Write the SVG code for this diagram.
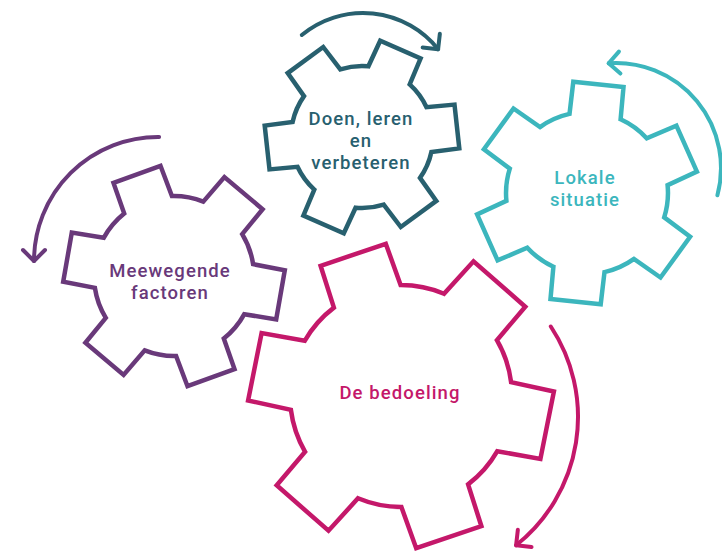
<svg xmlns="http://www.w3.org/2000/svg" width="722" height="552" viewBox="0 0 722 552">
<style>
.gear{fill:none;stroke-width:4.5;stroke-linejoin:miter;stroke-miterlimit:10}
.arc{fill:none;stroke-width:4;stroke-linecap:round}
.lbl{font-family:Roboto,"Liberation Sans",sans-serif;font-weight:500;font-size:18.5px;letter-spacing:1.1px;text-anchor:middle}
.c1{stroke:#28606f}.t1{fill:#28606f}
.c2{stroke:#3cb6bd}.t2{fill:#3cb6bd}
.c3{stroke:#69397a}.t3{fill:#69397a}
.c4{stroke:#c4186a}.t4{fill:#c4186a}
</style>
<defs>
<marker id="m1" markerUnits="userSpaceOnUse" orient="auto" overflow="visible" markerWidth="30" markerHeight="30" refX="0" refY="0"><path d="M-11,-11 L0,0 L-11,11" fill="none" stroke="#28606f" stroke-width="4" stroke-linecap="round" stroke-linejoin="round"/></marker>
<marker id="m2" markerUnits="userSpaceOnUse" orient="auto" overflow="visible" markerWidth="30" markerHeight="30" refX="0" refY="0"><path d="M-11,-11 L0,0 L-11,11" fill="none" stroke="#3cb6bd" stroke-width="4" stroke-linecap="round" stroke-linejoin="round"/></marker>
<marker id="m3" markerUnits="userSpaceOnUse" orient="auto" overflow="visible" markerWidth="30" markerHeight="30" refX="0" refY="0"><path d="M-11,-11 L0,0 L-11,11" fill="none" stroke="#69397a" stroke-width="4" stroke-linecap="round" stroke-linejoin="round"/></marker>
<marker id="m4" markerUnits="userSpaceOnUse" orient="auto" overflow="visible" markerWidth="30" markerHeight="30" refX="0" refY="0"><path d="M-11,-11 L0,0 L-11,11" fill="none" stroke="#c4186a" stroke-width="4" stroke-linecap="round" stroke-linejoin="round"/></marker>
</defs>
<rect width="722" height="552" fill="#ffffff"/>
<g id="gear-doen">
<path class="gear c1" d="M304,96.1 L287.7,73.1 L323.2,47 L340.3,69.4 A71,71 0 0 1 368.4,66.3 L380.2,40.7 L420.6,58.4 L409.7,84.4 A71,71 0 0 1 426.5,107.2 L454.5,104.6 L459.3,148.4 L431.4,152 A71,71 0 0 1 420,177.9 L436.3,200.9 L400.8,227 L383.7,204.6 A71,71 0 0 1 355.6,207.7 L343.8,233.3 L303.4,215.6 L314.3,189.6 A71,71 0 0 1 297.5,166.8 L269.5,169.4 L264.7,125.6 L292.6,122 A71,71 0 0 1 304,96.1 Z"/>
<text class="lbl t1" x="361" y="125">Doen, leren</text>
<text class="lbl t1" x="361" y="147">en</text>
<text class="lbl t1" x="361" y="169">verbeteren</text>
</g>
<g id="gear-lokale">
<path class="gear c2" d="M569.5,113.9 L573.3,81.8 L623.5,87.1 L620.6,119.3 A81,81 0 0 1 646.7,138.3 L676.4,125.6 L696.9,171.6 L667.6,185.2 A81,81 0 0 1 664.2,217.4 L690.1,236.8 L660.5,277.5 L634,258.9 A81,81 0 0 1 604.5,272.1 L600.7,304.2 L550.5,298.9 L553.4,266.7 A81,81 0 0 1 527.3,247.7 L497.6,260.4 L477.1,214.4 L506.4,200.8 A81,81 0 0 1 509.8,168.6 L483.9,149.2 L513.5,108.5 L540,127.1 A81,81 0 0 1 569.5,113.9 Z"/>
<text class="lbl t2" x="585" y="184">Lokale</text>
<text class="lbl t2" x="585" y="206">situatie</text>
</g>
<g id="gear-meewegende">
<path class="gear c3" d="M124.2,213.4 L113.5,182.9 L160.5,165.8 L171.9,196 A80,80 0 0 1 203.3,201.6 L224.4,177.1 L262.6,209.2 L242.2,234.2 A80,80 0 0 1 253.1,264.2 L284.8,270.2 L276.2,319.4 L244.3,314.2 A80,80 0 0 1 223.8,338.6 L234.5,369.1 L187.5,386.2 L176.1,356 A80,80 0 0 1 144.7,350.4 L123.6,374.9 L85.4,342.8 L105.8,317.8 A80,80 0 0 1 94.9,287.8 L63.2,281.8 L71.8,232.6 L103.7,237.8 A80,80 0 0 1 124.2,213.4 Z"/>
<text class="lbl t3" x="170" y="277">Meewegende</text>
<text class="lbl t3" x="170" y="299">factoren</text>
</g>
<g id="gear-bedoeling">
<path class="gear c4" d="M333.9,307.6 L320.6,265.8 L385.8,243.8 L400.6,285 A111,111 0 0 1 444,293.7 L473.5,261.3 L525.3,306.7 L496.9,340.2 A111,111 0 0 1 511.1,382.1 L553.9,391.5 L540.4,459 L497.3,451.2 A111,111 0 0 1 468.1,484.4 L481.4,526.2 L416.2,548.2 L401.4,507 A111,111 0 0 1 358,498.3 L328.5,530.7 L276.7,485.3 L305.1,451.8 A111,111 0 0 1 290.9,409.9 L248.1,400.5 L261.6,333 L304.7,340.8 A111,111 0 0 1 333.9,307.6 Z"/>
<text class="lbl t4" x="400" y="399">De bedoeling</text>
</g>
<g id="connectors">
<path class="arc c1" d="M301.8,35 A96,96 0 0 1 438.1,49.2" marker-end="url(#m1)"/>
<path class="arc c2" d="M717.4,195.2 A105,105 0 0 0 608.7,63.3" marker-end="url(#m2)"/>
<path class="arc c3" d="M159.1,137 A124,124 0 0 0 34,261" marker-end="url(#m3)"/>
<path class="arc c4" d="M550.8,326.5 A164,164 0 0 1 516.1,545.3" marker-end="url(#m4)"/>
</g>
</svg>
